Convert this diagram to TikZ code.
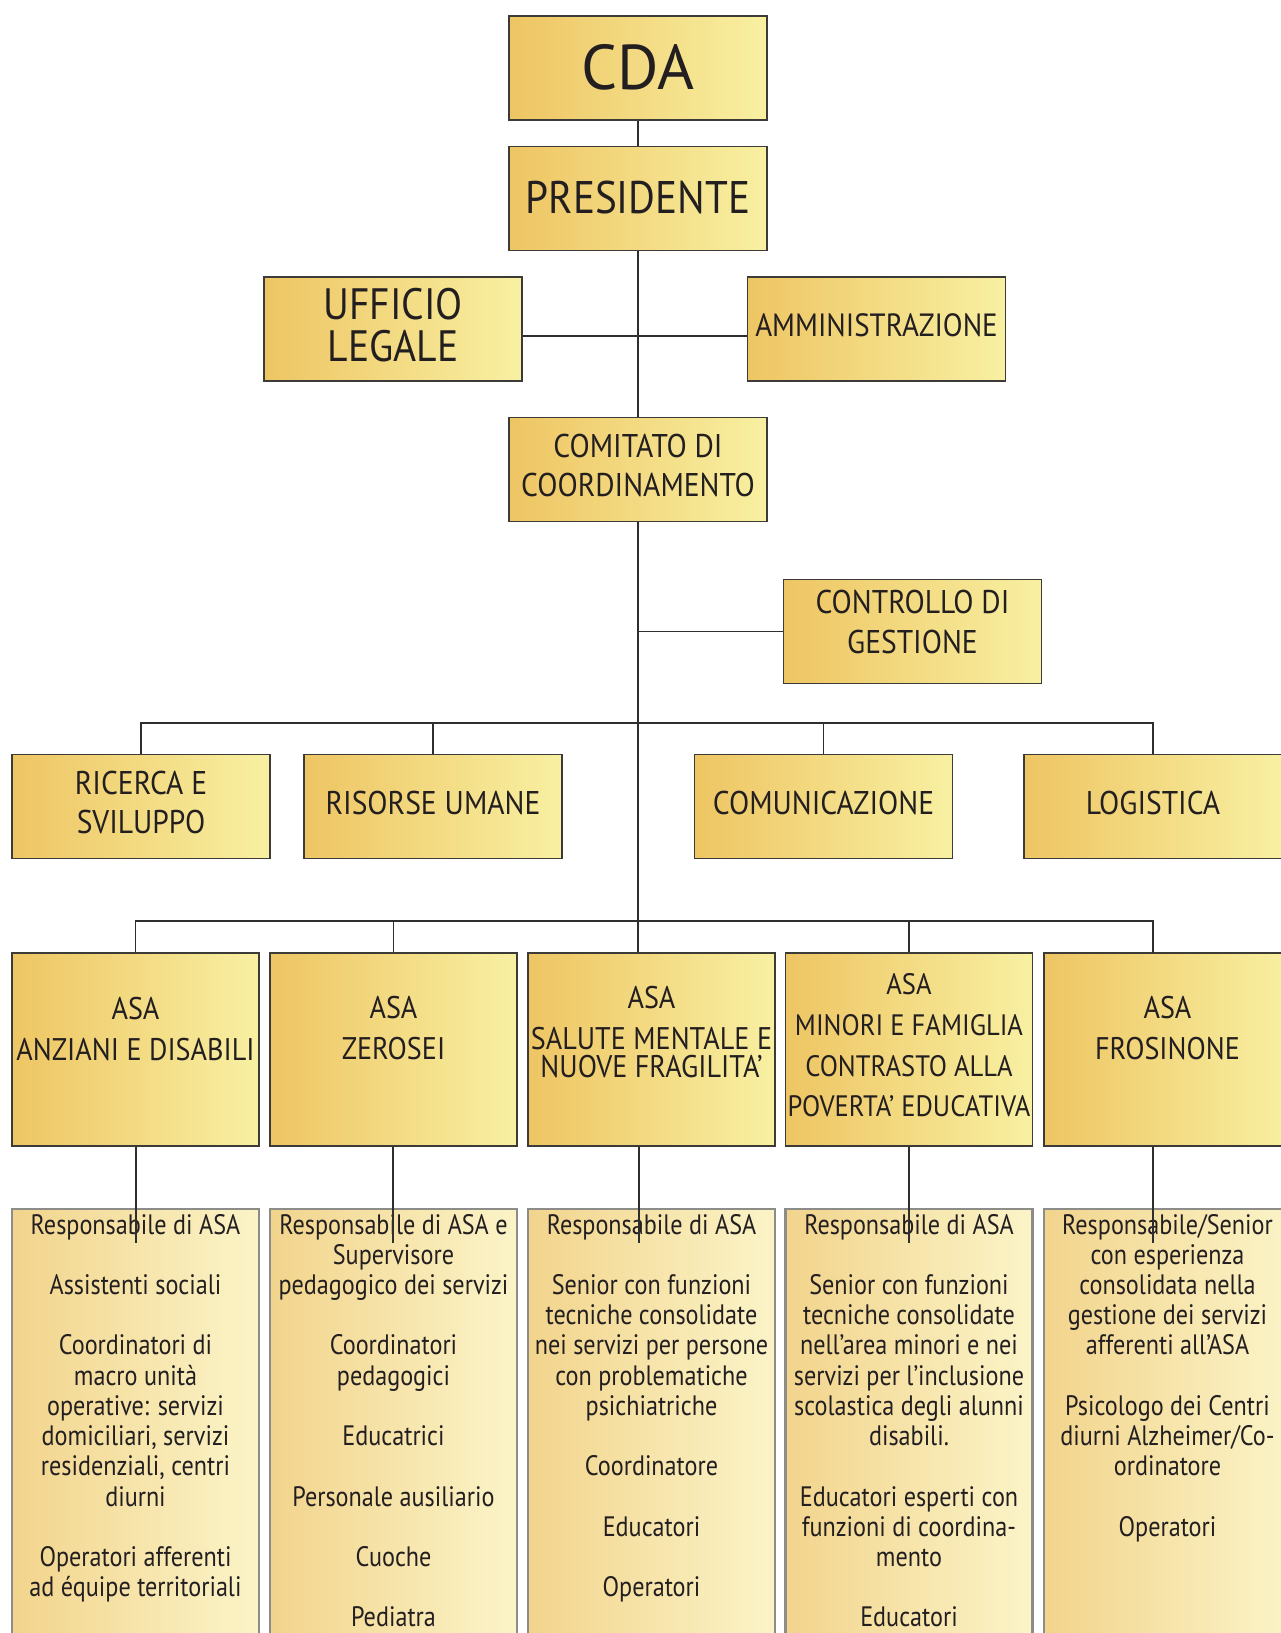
\documentclass[tikz,border=0pt]{standalone}
\usepackage{fontspec}
\setmainfont[FakeStretch=0.9]{PT Sans}
\newfontfamily\cdafont{PT Sans}
\newfontfamily\stafffont[FakeStretch=0.86]{PT Sans}
\usetikzlibrary{positioning}

\definecolor{goldL}{HTML}{EEC563}
\definecolor{goldR}{HTML}{F8F0A2}
\definecolor{paleL}{HTML}{F2D48C}
\definecolor{paleR}{HTML}{FBF4C8}
\definecolor{boxline}{HTML}{3C3B38}
\definecolor{staffline}{HTML}{8C8C88}
\definecolor{wirecol}{HTML}{2E2E2E}
\definecolor{ink}{HTML}{231F20}

\newcommand{\fsz}[2]{\fontsize{#1}{#2}\selectfont}

\begin{document}
\begin{tikzpicture}[x=0.02cm,y=-0.02cm,every node/.style={text=ink},
  wire/.style={draw=wirecol,line width=0.8pt},
  box/.style={draw=boxline,line width=1pt,left color=goldL,right color=goldR,
    minimum width=5.16cm,minimum height=2.08cm,inner sep=0pt,align=center,
    text depth=0.16cm,font=\fsz{18.7}{22.5}},
  asabox/.style={box,minimum width=4.94cm,minimum height=3.86cm},
  staffbox/.style={draw=staffline,line width=1.5pt,left color=paleL,right color=paleR,
    minimum width=4.94cm,minimum height=9.2cm,inner sep=0pt},
  asatext/.style={align=center,inner sep=0pt,font=\fsz{17.8}{23.2}},
  stafftext/.style={align=center,inner sep=0pt,font=\stafffont\fsz{16}{17.2}}]
        \useasboundingbox (0,0) rectangle (1281,1633);

        % top of the chart
        \node[box,text depth=0.06cm,font=\cdafont\fsz{36}{36}] (cda) at (638,68) {CDA};
        \node[box,text depth=0.06cm,font=\fsz{26}{26}] (pres) at (638,198.5) {PRESIDENTE};
        \node[box,font=\fsz{25}{24}] (legale) at (393,329) {UFFICIO\\LEGALE};
        \node[box,font=\fsz{18.3}{20}] (ammin) at (876.5,329) {AMMINISTRAZIONE};
        \node[box] (comitato) at (638,469.5) {COMITATO DI\\COORDINAMENTO};
        \node[box,text depth=0.38cm] (controllo) at (912.5,631.5) {CONTROLLO DI\\GESTIONE};

        % staff functions
        \node[box] (ricerca) at (141,806.5) {RICERCA E\\SVILUPPO};
        \node[box] (risorse) at (433,806.5) {RISORSE UMANE};
        \node[box] (comunic) at (823.5,806.5) {COMUNICAZIONE};
        \node[box] (logist) at (1153,806.5) {LOGISTICA};

        \draw[wire] (cda) -- (pres);
        \draw[wire] (pres) -- (comitato);
        \draw[wire] ([yshift=-0.14cm]legale.east) -- ([yshift=-0.14cm]ammin.west);

        % ASA boxes
        \foreach \i/\x in {1/135.5,2/393.5,3/651.5,4/909,5/1167.5}
        \node[asabox] (asa\i) at (\x,1049.5) {};

        \node[asatext,below=0.9cm of asa1.north] (asa1t) {ASA\\ANZIANI E DISABILI};
        \node[asatext,below=0.88cm of asa2.north] (asa2t) {ASA\\ZEROSEI};
        \node[asatext,below=0.68cm of asa3.north] (asa3t) {ASA\\SALUTE MENTALE E\\[-7pt]NUOVE FRAGILITA’};
        \node[asatext,font=\fsz{16.8}{23.2},below=0.42cm of asa4.north] (asa4t) {ASA\\MINORI E FAMIGLIA\\CONTRASTO ALLA\\POVERTA’ EDUCATIVA};
        \node[asatext,below=0.88cm of asa5.north] (asa5t) {ASA\\FROSINONE};

        \draw[wire] (comitato.south) -- (comitato.south |- asa3.north);
        \draw[wire] (controllo.west -| comitato.south) -- (controllo.west);

        \coordinate (bus1) at (638,723);
        \draw[wire] (ricerca.north) |- (bus1) -| (logist.north);
        \foreach \n in {risorse,comunic}
        \draw[wire] (\n.north) -- (\n.north |- bus1);

        \coordinate (bus2) at (638,921);
        \coordinate (drop5) at (1153,953);
        \draw[wire] (asa1.north) |- (bus2) -| (drop5);
        \foreach \n in {asa2,asa4}
        \draw[wire] (\n.north) -- (\n.north |- bus2);

        % people in each ASA
        \foreach \i/\x in {1/135.5,2/393.5,3/651.5,4/909,5/1167.5}
        \node[staffbox] (staff\i) at (\x,1439) {};

        \node[stafftext,below=0.12cm of staff1.north] (staff1t) {Responsabile di ASA\\[17.2pt]
          Assistenti sociali\\[17.2pt]
          Coordinatori di\\macro unità\\operative: servizi\\domiciliari, servizi\\residenziali, centri\\diurni\\[17.2pt]
          Operatori afferenti\\ad équipe territoriali};
        \node[stafftext,below=0.12cm of staff2.north] (staff2t) {Responsabile di ASA e\\Supervisore\\pedagogico dei servizi\\[17.2pt]
          Coordinatori\\pedagogici\\[17.2pt]
          Educatrici\\[17.2pt]
          Personale ausiliario\\[17.2pt]
          Cuoche\\[17.2pt]
          Pediatra};
        \node[stafftext,below=0.12cm of staff3.north] (staff3t) {Responsabile di ASA\\[17.2pt]
          Senior con funzioni\\tecniche consolidate\\nei servizi per persone\\con problematiche\\psichiatriche\\[17.2pt]
          Coordinatore\\[17.2pt]
          Educatori\\[17.2pt]
          Operatori};
        \node[stafftext,below=0.12cm of staff4.north] (staff4t) {Responsabile di ASA\\[17.2pt]
          Senior con funzioni\\tecniche consolidate\\nell’area minori e nei\\servizi per l’inclusione\\scolastica degli alunni\\disabili.\\[17.2pt]
          Educatori esperti con\\funzioni di coordina-\\mento\\[17.2pt]
          Educatori};
        \node[stafftext,below=0.12cm of staff5.north] (staff5t) {Responsabile/Senior\\con esperienza\\consolidata nella\\gestione dei servizi\\afferenti all’ASA\\[17.2pt]
          Psicologo dei Centri\\diurni Alzheimer/Co-\\ordinatore\\[17.2pt]
          Operatori};

        \foreach \i/\x in {1/136,2/393,3/639,4/909,5/1153}
        {
        \coordinate (stub\i) at (\x,1243);
        \draw[wire] (asa\i.south -| stub\i) -- (stub\i);
        }
\end{tikzpicture}
\end{document}
